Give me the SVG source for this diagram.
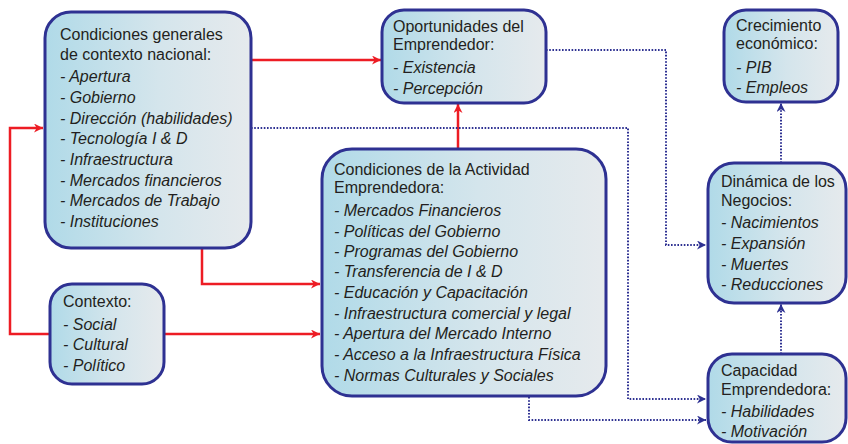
<svg xmlns="http://www.w3.org/2000/svg" width="848" height="444" viewBox="0 0 848 444">
<defs>
<linearGradient id="g" x1="0" y1="0" x2="1" y2="0">
<stop offset="0" stop-color="#b0dae8"/>
<stop offset="0.55" stop-color="#d4e5ec"/>
<stop offset="1" stop-color="#e6eaed"/>
</linearGradient>
<marker id="ar" viewBox="0 0 10 10" refX="10" refY="5" markerWidth="10" markerHeight="9" markerUnits="userSpaceOnUse" orient="auto">
<path d="M0,0 L10,5 L0,10 L3,5 Z" fill="#ed1c24"/>
</marker>
<marker id="ab" viewBox="0 0 10 10" refX="10" refY="5" markerWidth="10" markerHeight="9" markerUnits="userSpaceOnUse" orient="auto">
<path d="M0,0 L10,5 L0,10 L3,5 Z" fill="#2e3192"/>
</marker>
</defs>
<style>
.box{fill:url(#g);stroke:#2e3192;stroke-width:3}
text{font-family:"Liberation Sans",Arial,sans-serif;font-size:16px;fill:#231f20}
.i{font-style:italic}
.red{fill:none;stroke:#ed1c24;stroke-width:2.5;marker-end:url(#ar)}
.blue{fill:none;stroke:#2e3192;stroke-width:2;stroke-dasharray:1.6 1.6;marker-end:url(#ab)}
</style>
<g id="connectors">
<path class="red" d="M251,60 H381"/>
<path class="red" d="M458,150 V104"/>
<path class="red" d="M202,248 V284 H320"/>
<path class="red" d="M164,334 H320"/>
<path class="red" d="M50,334 H10 V128 H43"/>
<path class="blue" d="M546,50 H666 V245 H706"/>
<path class="blue" d="M251,128 H628 V399 H706"/>
<path class="blue" d="M529,397 V420 H706"/>
<path class="blue" d="M781,354 V304"/>
<path class="blue" d="M781,163 V103"/>
</g>
<g id="n1">
<rect class="box" x="45" y="12" width="206" height="236" rx="26"/>
<text x="60" y="40">Condiciones generales</text>
<text x="60" y="60">de contexto nacional:</text>
<text class="i" x="60" y="82">- Apertura</text>
<text class="i" x="60" y="103">- Gobierno</text>
<text class="i" x="60" y="124">- Dirección (habilidades)</text>
<text class="i" x="60" y="144">- Tecnología I &amp; D</text>
<text class="i" x="60" y="165">- Infraestructura</text>
<text class="i" x="60" y="186">- Mercados financieros</text>
<text class="i" x="60" y="206">- Mercados de Trabajo</text>
<text class="i" x="60" y="227">- Instituciones</text>
</g>
<g id="n2">
<rect class="box" x="382" y="10" width="164" height="93" rx="22"/>
<text x="393" y="32">Oportunidades del</text>
<text x="393" y="50">Emprendedor:</text>
<text class="i" x="393" y="73">- Existencia</text>
<text class="i" x="393" y="94">- Percepción</text>
</g>
<g id="n3">
<rect class="box" x="724" y="10" width="114" height="92" rx="22"/>
<text x="736" y="31">Crecimiento</text>
<text x="736" y="49">económico:</text>
<text class="i" x="736" y="73">- PIB</text>
<text class="i" x="736" y="93">- Empleos</text>
</g>
<g id="n4">
<rect class="box" x="322" y="149" width="284" height="247" rx="30"/>
<text x="334" y="175">Condiciones de la Actividad</text>
<text x="334" y="193">Emprendedora:</text>
<text class="i" x="334" y="216">- Mercados Financieros</text>
<text class="i" x="334" y="237">- Políticas del Gobierno</text>
<text class="i" x="334" y="257">- Programas del Gobierno</text>
<text class="i" x="334" y="277">- Transferencia de I &amp; D</text>
<text class="i" x="334" y="298">- Educación y Capacitación</text>
<text class="i" x="334" y="319">- Infraestructura comercial y legal</text>
<text class="i" x="334" y="339">- Apertura del Mercado Interno</text>
<text class="i" x="334" y="360">- Acceso a la Infraestructura Física</text>
<text class="i" x="334" y="381">- Normas Culturales y Sociales</text>
</g>
<g id="n5">
<rect class="box" x="50" y="284" width="114" height="100" rx="22"/>
<text x="63" y="307">Contexto:</text>
<text class="i" x="63" y="330">- Social</text>
<text class="i" x="63" y="350">- Cultural</text>
<text class="i" x="63" y="371">- Político</text>
</g>
<g id="n6">
<rect class="box" x="708" y="163" width="138" height="140" rx="26"/>
<text x="721" y="187">Dinámica de los</text>
<text x="721" y="206">Negocios:</text>
<text class="i" x="721" y="228">- Nacimientos</text>
<text class="i" x="721" y="249">- Expansión</text>
<text class="i" x="721" y="270">- Muertes</text>
<text class="i" x="721" y="290">- Reducciones</text>
</g>
<g id="n7">
<rect class="box" x="708" y="354" width="138" height="88" rx="24"/>
<text x="721" y="376">Capacidad</text>
<text x="721" y="395">Emprendedora:</text>
<text class="i" x="721" y="417">- Habilidades</text>
<text class="i" x="721" y="437">- Motivación</text>
</g>
</svg>
